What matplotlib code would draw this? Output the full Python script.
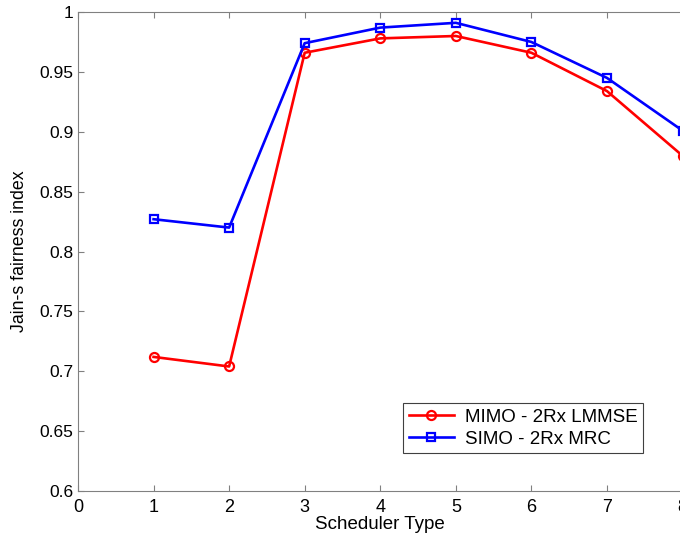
import numpy as np
import matplotlib.pyplot as plt

plt.rcParams['font.family'] = ['Liberation Sans', 'DejaVu Sans']

sched = [1, 2, 3, 4, 5, 6, 7, 8]
mimo_lmmse = [0.712, 0.704, 0.966, 0.978, 0.980, 0.966, 0.934, 0.880]
simo_mrc = [0.827, 0.820, 0.974, 0.987, 0.991, 0.975, 0.945, 0.901]

fig = plt.figure(figsize=(6.8, 5.4), dpi=100)
ax = fig.add_axes([0.1147, 0.0907, 0.889, 0.887])

ax.plot(sched, mimo_lmmse, color='red', lw=1.9, marker='o', ms=6.5,
        mfc='none', mec='red', mew=1.6, label='MIMO - 2Rx LMMSE')
ax.plot(sched, simo_mrc, color='blue', lw=1.9, marker='s', ms=6,
        mfc='none', mec='blue', mew=1.6, label='SIMO - 2Rx MRC')

ax.set_xlim(0, 8)
ax.set_ylim(0.6, 1.0)
ax.set_xticks(range(9))
ax.set_yticks(np.arange(0.6, 1.001, 0.05))
ax.set_yticklabels(['0.6', '0.65', '0.7', '0.75', '0.8', '0.85', '0.9', '0.95', '1'])

for s in ax.spines.values():
    s.set_color('#808080')
ax.spines['right'].set_visible(False)
ax.tick_params(direction='in', color='#808080', length=4, top=True)
ax.tick_params(axis='x', labelsize=13, pad=5.5)
ax.tick_params(axis='y', labelsize=12.5, pad=3.5)

ax.set_xlabel('Scheduler Type', fontsize=13.5, labelpad=0)
ax.set_ylabel("Jain-s fairness index", fontsize=12.8, labelpad=8)

leg = ax.legend(loc='lower left', bbox_to_anchor=(0.538, 0.079),
                fontsize=13.5, fancybox=False, framealpha=1,
                handlelength=2.4, handletextpad=0.6, borderpad=0.3,
                labelspacing=0.25, borderaxespad=0)
leg.get_frame().set_edgecolor('#404040')
leg.get_frame().set_linewidth(0.8)

fig.savefig('out.png', dpi=100)
